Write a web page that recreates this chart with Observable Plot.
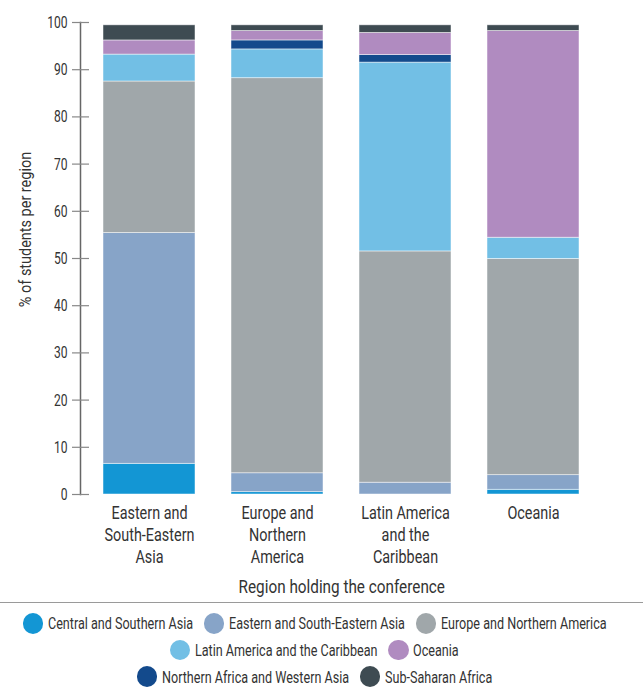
<!DOCTYPE html>
<html>
<head>
<meta charset="utf-8">
<script src="https://cdn.jsdelivr.net/npm/d3@7"></script>
<script src="https://cdn.jsdelivr.net/npm/@observablehq/plot@0.6"></script>
<style>
  html, body { margin: 0; padding: 0; background: #fff; }
  body { width: 643px; font-family: Roboto, "Liberation Sans", sans-serif; color: #333; }
  #chart svg { display: block; }
  #legend { border-top: 1.5px solid #9a9a9a; margin-top: 2px; padding-top: 7px; padding-right: 14px; }
  .row { display: flex; justify-content: center; align-items: center; height: 26.7px; }
  .item { display: flex; align-items: center; margin: 0 5.5px; font-size: 17px; white-space: nowrap; }
  .dot { width: 20.5px; height: 20.5px; border-radius: 50%; margin-right: 4.5px; flex: none; }
  .lbl { display: inline-block; transform-origin: 0 50%; }
</style>
</head>
<body>
<div id="chart"></div>
<div id="legend"></div>
<script>
// Host regions (x categories) and their displayed tick labels
const hosts = ["Eastern and South-Eastern Asia", "Europe and Northern America", "Latin America and the Caribbean", "Oceania"];
const hostLabels = ["Eastern and\nSouth-Eastern\nAsia", "Europe and\nNorthern\nAmerica", "Latin America\nand the\nCaribbean", "Oceania"];

// Student origin regions (stack order, bottom to top) and colours
const origins = ["Central and Southern Asia", "Eastern and South-Eastern Asia", "Europe and Northern America", "Latin America and the Caribbean", "Northern Africa and Western Asia", "Oceania", "Sub-Saharan Africa"];
const originColors = ["#1396d4", "#87a4c8", "#a0a7aa", "#72bfe5", "#134a8c", "#b08bc0", "#3e4b52"];

// Legend order (rows)
const legendRows = [
  ["Central and Southern Asia", "Eastern and South-Eastern Asia", "Europe and Northern America"],
  ["Latin America and the Caribbean", "Oceania"],
  ["Northern Africa and Western Asia", "Sub-Saharan Africa"]
];

// % of students per origin region, one value per host region
const centralSouthernAsia = [6.5, 0.5, 0.0, 1.0];
const easternSouthEasternAsia = [48.9, 4.0, 2.5, 3.1];
const europeNorthernAmerica = [32.1, 83.7, 49.0, 45.8];
const latinAmericaCaribbean = [5.7, 6.1, 40.0, 4.5];
const northernAfricaWesternAsia = [0.0, 1.9, 1.6, 0.0];
const oceania = [3.0, 2.0, 4.7, 43.8];
const subSaharanAfrica = [3.2, 1.2, 1.6, 1.2];

const yTicks = [0, 10, 20, 30, 40, 50, 60, 70, 80, 90, 100];
const xTitle = "Region holding the conference";
const yTitle = "% of students per region";

const seriesValues = [centralSouthernAsia, easternSouthEasternAsia, europeNorthernAmerica, latinAmericaCaribbean, northernAfricaWesternAsia, oceania, subSaharanAfrica];
const data = origins.flatMap((o, i) => hosts.map((h, j) => ({host: h, origin: o, value: seriesValues[i][j]})));

const font = 'Roboto, "Liberation Sans", sans-serif';

const chart = Plot.plot({
  width: 643,
  height: 600,
  marginTop: 22,
  marginBottom: 106,
  marginLeft: 85,
  marginRight: 45.5,
  style: {fontFamily: font, fontSize: "17px", color: "#333", background: "#fff"},
  x: {domain: hosts, paddingInner: 0.28, paddingOuter: 0.14},
  y: {domain: [0, 100]},
  color: {domain: origins, range: originColors},
  marks: [
    Plot.barY(data, Plot.stackY({order: origins}, {x: "host", y: "value", fill: "origin", stroke: "#fff", strokeOpacity: 0.6, strokeWidth: 0.8})),
    Plot.frame({anchor: "left", dx: -5, stroke: "#666", strokeWidth: 1.5}),
    Plot.axisY({ticks: yTicks, tickSize: 17, tickPadding: 5, dx: 4, stroke: "#888", fill: "#333", strokeWidth: 1.2, fontSize: 17, label: null}),
    Plot.axisX({tickSize: 0, tickPadding: 9, tickFormat: d => hostLabels[hosts.indexOf(d)], lineHeight: 1.22, fontSize: 18, fill: "#333",
      label: xTitle, labelAnchor: "center", labelOffset: 98}),
    Plot.text([yTitle], {text: d => d, frameAnchor: "left", textAnchor: "middle", rotate: -90, dx: -60, dy: -29, fontSize: 17, fill: "#333"})
  ]
});
document.getElementById("chart").appendChild(chart);

// Condense the glyphs (the reference uses a condensed typeface)
const squeeze = {"y-axis tick label": 0.71, "x-axis tick label": 0.8, "x-axis label": 0.85, "text": 0.85};
chart.querySelectorAll("g[aria-label]").forEach(g => {
  const f = squeeze[g.getAttribute("aria-label")];
  if (!f) return;
  g.querySelectorAll("text").forEach(t => {
    const spans = t.querySelectorAll("tspan");
    const els = spans.length ? Array.from(spans) : [t];
    els.forEach(el => {
      const L = el.getComputedTextLength();
      if (L > 0) {
        el.setAttribute("textLength", (L * f).toFixed(2));
        el.setAttribute("lengthAdjust", "spacingAndGlyphs");
      }
    });
  });
});

const legend = document.getElementById("legend");
const legendSqueeze = 0.74;
for (const row of legendRows) {
  const r = document.createElement("div");
  r.className = "row";
  for (const name of row) {
    const it = document.createElement("div");
    it.className = "item";
    const dot = document.createElement("span");
    dot.className = "dot";
    dot.style.background = originColors[origins.indexOf(name)];
    const t = document.createElement("span");
    t.className = "lbl";
    t.textContent = name;
    it.appendChild(dot);
    it.appendChild(t);
    r.appendChild(it);
  }
  legend.appendChild(r);
}
legend.querySelectorAll(".lbl").forEach(t => {
  const w = t.getBoundingClientRect().width;
  t.style.transform = `scaleX(${legendSqueeze})`;
  t.style.marginRight = `${-(1 - legendSqueeze) * w}px`;
});
</script>
</body>
</html>
